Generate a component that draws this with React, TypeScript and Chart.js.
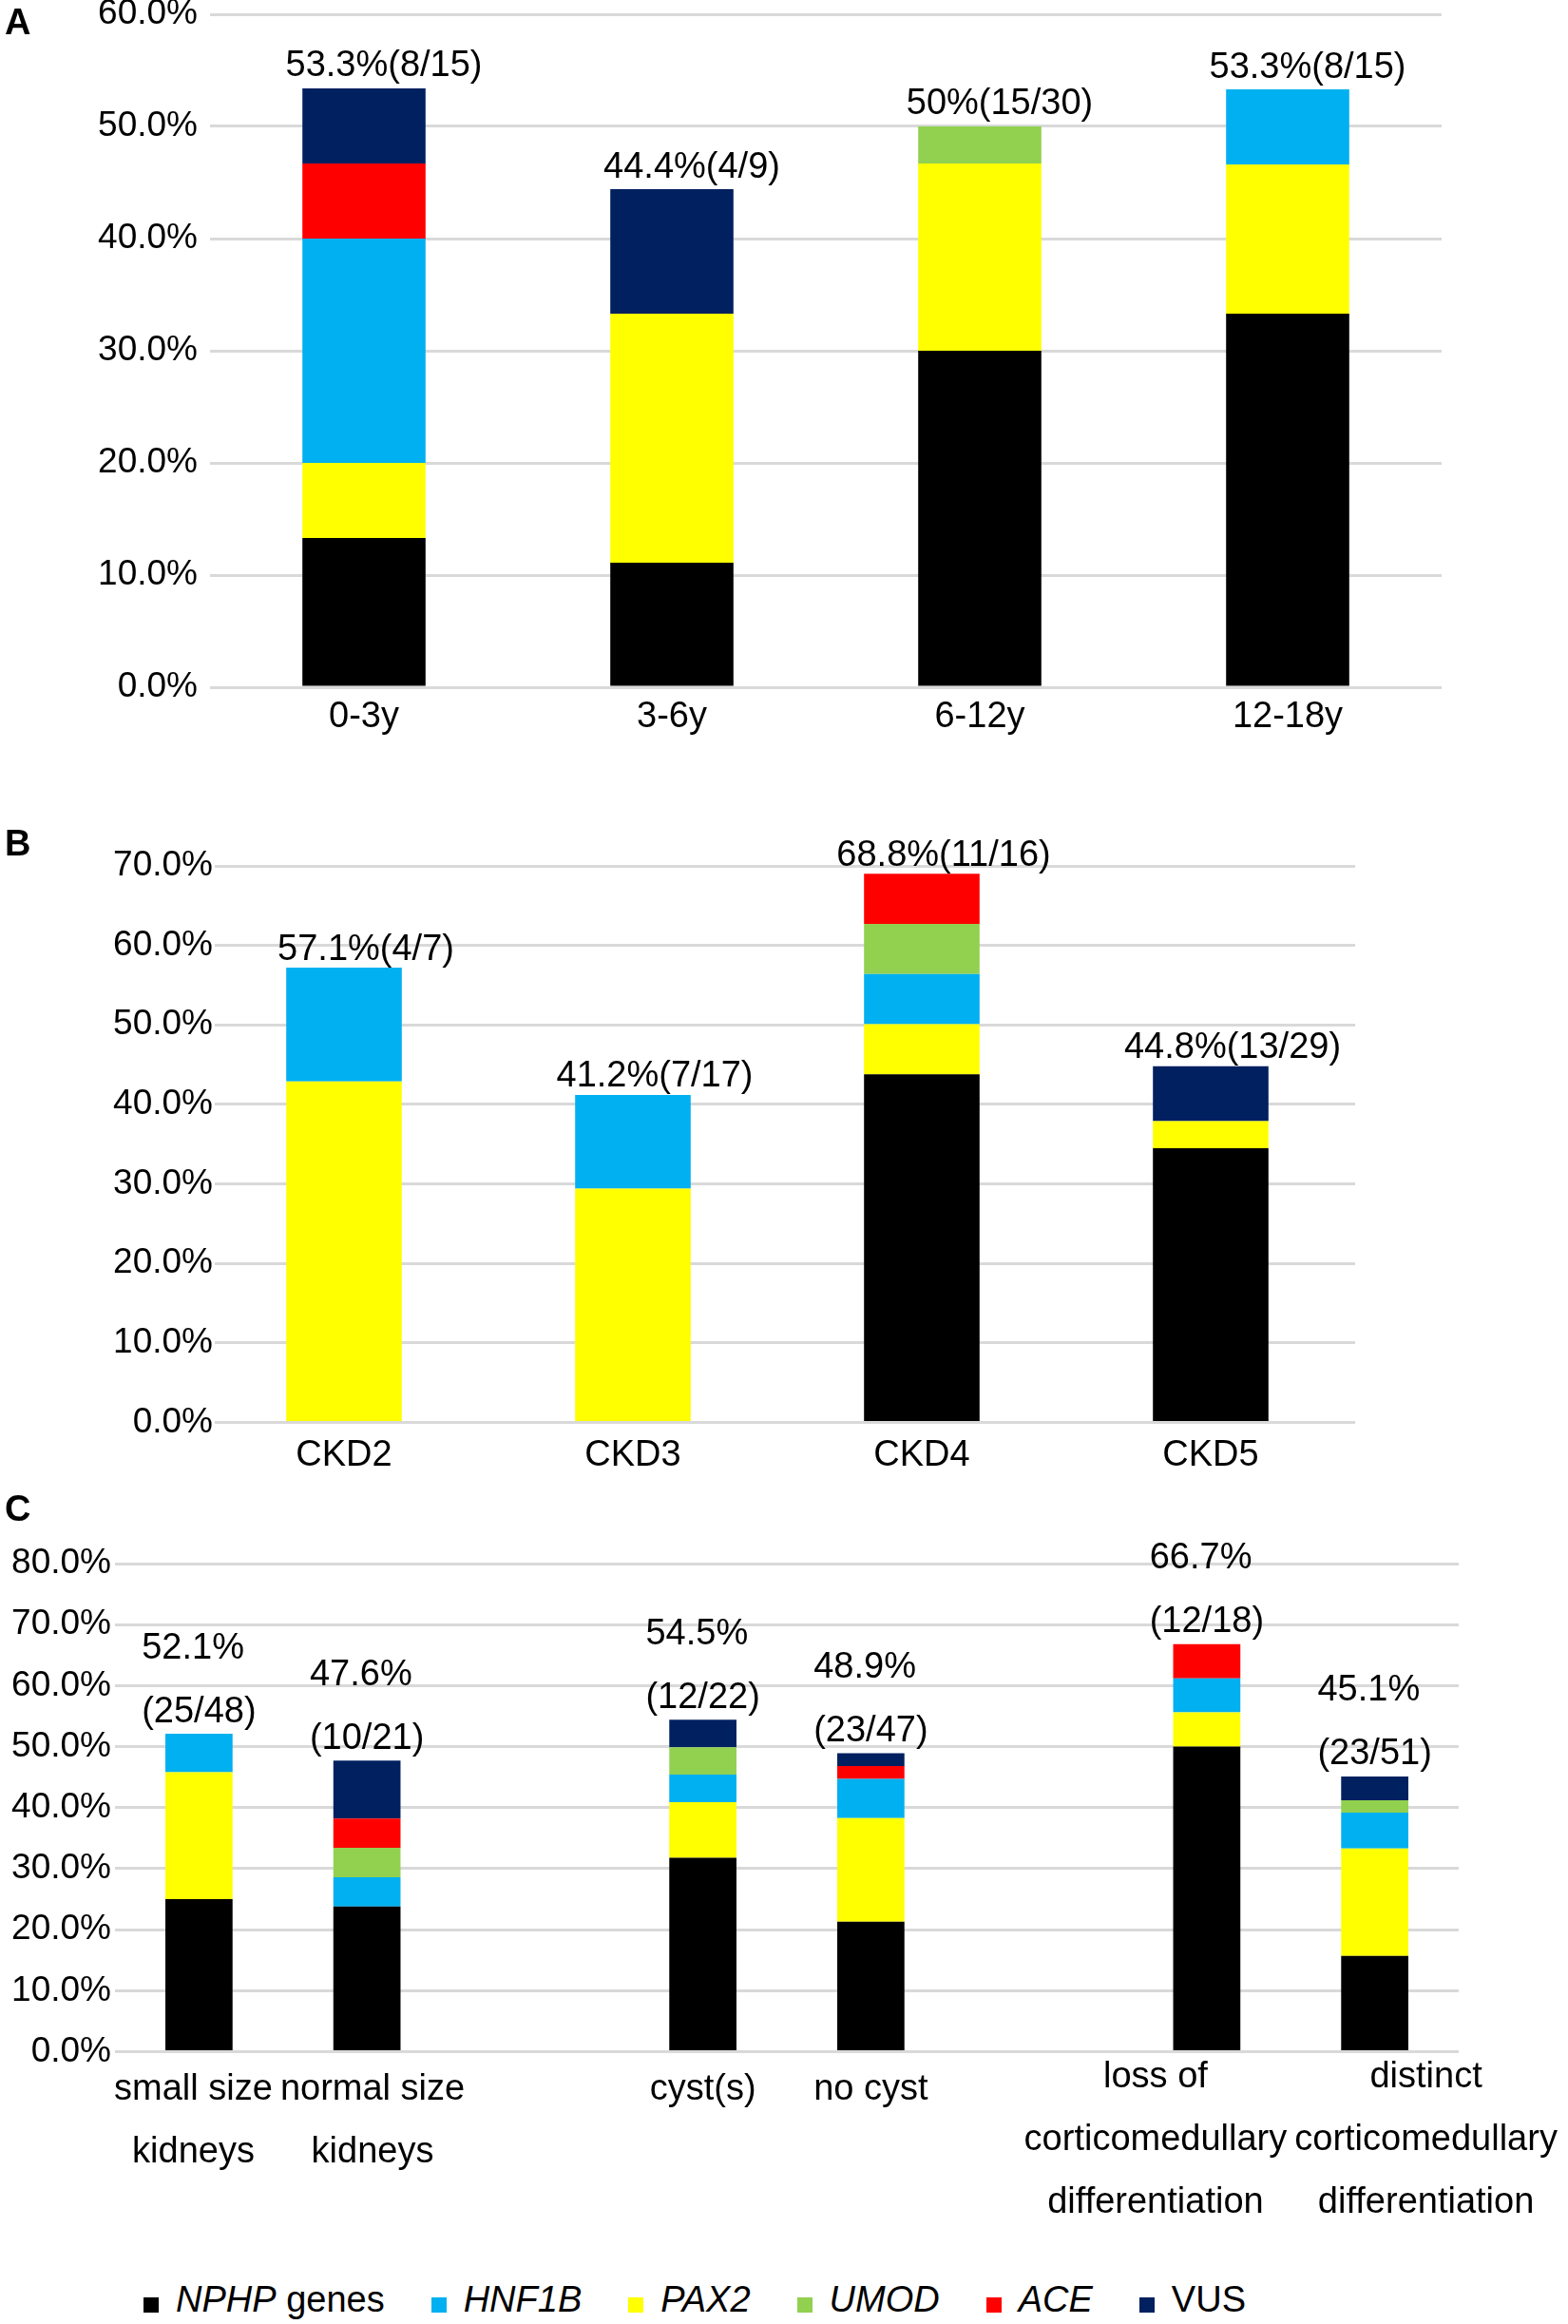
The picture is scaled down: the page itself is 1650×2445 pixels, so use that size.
import React, { useEffect, useRef } from 'react';
import { Chart, registerables } from 'chart.js';

Chart.register(...registerables);

const FONT = '"Liberation Sans", Arial, Helvetica, sans-serif';

// stacking order, bottom to top
const seriesNames = ['NPHP genes', 'PAX2', 'HNF1B', 'UMOD', 'ACE', 'VUS'];
const seriesColors = ['#000000', '#FFFF00', '#00B0F0', '#92D050', '#FF0000', '#002060'];

// A: age groups
const ageLabels = ['0-3y', '3-6y', '6-12y', '12-18y'];
const ageNphp = [13.3, 11.1, 30.0, 33.3];
const agePax2 = [6.7, 22.2, 16.7, 13.3];
const ageHnf1b = [20.0, 0, 0, 6.7];
const ageUmod = [0, 0, 3.3, 0];
const ageAce = [6.7, 0, 0, 0];
const ageVus = [6.7, 11.1, 0, 0];
const ageTotals = [['53.3%(8/15)'], ['44.4%(4/9)'], ['50%(15/30)'], ['53.3%(8/15)']];

// B: CKD stages
const ckdLabels = ['CKD2', 'CKD3', 'CKD4', 'CKD5'];
const ckdNphp = [0, 0, 43.8, 34.5];
const ckdPax2 = [42.9, 29.4, 6.3, 3.4];
const ckdHnf1b = [14.3, 11.8, 6.3, 0];
const ckdUmod = [0, 0, 6.3, 0];
const ckdAce = [0, 0, 6.3, 0];
const ckdVus = [0, 0, 0, 6.9];
const ckdTotals = [['57.1%(4/7)'], ['41.2%(7/17)'], ['68.8%(11/16)'], ['44.8%(13/29)']];

// C: imaging findings (empty slots separate the groups)
const imgLabels = [
  ['small size', 'kidneys'],
  ['normal size', 'kidneys'],
  '',
  ['cyst(s)'],
  ['no cyst'],
  '',
  ['loss of', 'corticomedullary', 'differentiation'],
  ['distinct', 'corticomedullary', 'differentiation'],
];
const imgNphp = [25.0, 23.8, null, 31.8, 21.3, null, 50.0, 15.7];
const imgPax2 = [20.8, 0, null, 9.1, 17.0, null, 5.6, 17.6];
const imgHnf1b = [6.3, 4.8, null, 4.5, 6.4, null, 5.6, 5.9];
const imgUmod = [0, 4.8, null, 4.5, 0, null, 0, 2.0];
const imgAce = [0, 4.8, null, 0, 2.1, null, 5.6, 0];
const imgVus = [0, 9.5, null, 4.5, 2.1, null, 0, 3.9];
const imgTotals = [
  ['52.1%', '(25/48)'],
  ['47.6%', '(10/21)'],
  null,
  ['54.5%', '(12/22)'],
  ['48.9%', '(23/47)'],
  null,
  ['66.7%', '(12/18)'],
  ['45.1%', '(23/51)'],
];

// legend order as in the figure: [italic part, plain part, colour]
const legendItems: [string, string, string][] = [
  ['NPHP', ' genes', '#000000'],
  ['HNF1B', '', '#00B0F0'],
  ['PAX2', '', '#FFFF00'],
  ['UMOD', '', '#92D050'],
  ['ACE', '', '#FF0000'],
  ['', 'VUS', '#002060'],
];

interface PanelProps {
  top: number;
  height: number;
  labels: any[];
  series: (number | null)[][];
  totals: (string[] | null)[];
  yMax: number;
  plotLeft: number;
  plotRight: number;
  plotTop: number;
  plotBottom: number;
  yLabelRight: number; // right edge of the y tick labels
  xTickPad: number;
  customX?: boolean; // wrapped labels pushed apart like the office chart does
  xFirst?: number;
  xGap?: number;
  labelOffset: number;
  labelGap: number;
  labelDx: number;
}

const StackedPanel: React.FC<PanelProps> = (p) => {
  const chartRef = useRef<HTMLCanvasElement>(null);

  useEffect(() => {
    if (!chartRef.current) return;

    // tick labels may reach into the plot area (panel B), so measure them first
    const mctx = document.createElement('canvas').getContext('2d')!;
    mctx.font = `37px ${FONT}`;
    const widest = mctx.measureText(p.yMax.toFixed(1) + '%').width;
    const inside = p.yLabelRight > p.plotLeft;
    const yTicks: any = inside
      ? { mirror: true, crossAlign: 'far', padding: p.yLabelRight - p.plotLeft - widest, showLabelBackdrop: true, backdropColor: '#ffffff', backdropPadding: 2 }
      : { padding: p.plotLeft - p.yLabelRight };

    const totalsPlugin = {
      id: 'totals',
      afterDatasetsDraw(chart: any) {
        const { ctx, scales } = chart;
        ctx.save();
        ctx.font = `38px ${FONT}`;
        ctx.fillStyle = '#000';
        ctx.textBaseline = 'middle';
        ctx.textAlign = 'left';
        p.totals.forEach((lines, i) => {
          if (!lines) return;
          let sum = 0;
          chart.data.datasets.forEach((ds: any) => { sum += ds.data[i] || 0; });
          const topPx = scales.y.getPixelForValue(sum);
          const cx = scales.x.getPixelForValue(i) + p.labelDx;
          const w = Math.max(...lines.map((l) => ctx.measureText(l).width));
          lines.forEach((l, k) => {
            const yy = topPx - p.labelOffset - (lines.length - 1 - k) * p.labelGap;
            ctx.fillText(l, cx - w / 2, yy);
          });
        });
        ctx.restore();
      },
    };

    const catLabelPlugin = {
      id: 'catLabels',
      afterDraw(chart: any) {
        if (!p.customX) return;
        const { ctx, scales, chartArea } = chart;
        ctx.save();
        ctx.font = `38px ${FONT}`;
        ctx.fillStyle = '#000';
        ctx.textAlign = 'center';
        ctx.textBaseline = 'middle';
        const blocks = p.labels.map((lab: any, i: number) => {
          const lines: string[] = Array.isArray(lab) ? lab : lab ? [lab] : [];
          const w = lines.length ? Math.max(...lines.map((l) => ctx.measureText(l).width)) : 0;
          return { lines, w, cx: scales.x.getPixelForValue(i) };
        });
        for (let i = 1; i < blocks.length; i++) {
          const a = blocks[i - 1];
          const b = blocks[i];
          if (!a.lines.length || !b.lines.length) continue;
          const overlap = a.cx + a.w / 2 + 8 - (b.cx - b.w / 2);
          if (overlap > 0) {
            a.cx -= overlap / 2;
            b.cx += overlap / 2;
          }
        }
        blocks.forEach((b: any) => {
          // taller blocks sit a little higher
          const y0 = chartArea.bottom + (p.xFirst || 0) - Math.max(0, b.lines.length - 2) * 13;
          b.lines.forEach((l: string, k: number) => {
            ctx.fillText(l, b.cx, y0 + k * (p.xGap || 0));
          });
        });
        ctx.restore();
      },
    };

    const config: any = {
      type: 'bar',
      data: {
        labels: p.labels,
        datasets: p.series.map((data, k) => ({
          label: seriesNames[k],
          data,
          backgroundColor: seriesColors[k],
          borderWidth: 0,
          categoryPercentage: 1,
          barPercentage: 0.4,
        })),
      },
      options: {
        animation: false,
        responsive: true,
        maintainAspectRatio: false,
        layout: { padding: { left: 0, top: p.plotTop, right: 1650 - p.plotRight, bottom: 0 } },
        plugins: { legend: { display: false }, tooltip: { enabled: false } },
        scales: {
          x: {
            stacked: true,
            grid: { display: false, drawTicks: false },
            border: { display: false },
            ticks: {
              display: !p.customX,
              color: '#000',
              font: { family: FONT, size: 38 },
              padding: p.xTickPad,
              autoSkip: false,
              maxRotation: 0,
              minRotation: 0,
            },
            afterFit: (s: any) => {
              s.height = p.height - p.plotBottom;
              s.paddingLeft = 0; s.paddingRight = 0; s.paddingTop = 0; s.paddingBottom = 0;
            },
          },
          y: {
            stacked: true,
            min: 0,
            max: p.yMax,
            grid: { color: '#d9d9d9', lineWidth: 3, drawTicks: false },
            border: { display: false },
            ticks: {
              stepSize: 10,
              color: '#000',
              font: { family: FONT, size: 37 },
              callback: (v: any) => Number(v).toFixed(1) + '%',
              ...yTicks,
            },
            afterFit: (s: any) => {
              s.width = p.plotLeft;
              s.paddingLeft = 0; s.paddingRight = 0; s.paddingTop = 0; s.paddingBottom = 0;
            },
          },
        },
      },
      plugins: [totalsPlugin, catLabelPlugin],
    };

    const chartInstance = new Chart(chartRef.current, config);
    return () => {
      chartInstance.destroy();
    };
  }, []);

  return (
    <div style={{ position: 'absolute', left: 0, top: p.top, width: 1650, height: p.height }}>
      <canvas ref={chartRef}></canvas>
    </div>
  );
};

const letterStyle: React.CSSProperties = {
  position: 'absolute',
  left: 5,
  fontFamily: FONT,
  fontWeight: 'bold',
  fontSize: 38,
  lineHeight: '38px',
  color: '#000',
};

export default function App() {
  return (
    <div style={{ position: 'absolute', left: 0, top: 0, width: 1650, height: 2445, background: '#fff' }}>
      <StackedPanel
        top={0} height={800}
        labels={ageLabels}
        series={[ageNphp, agePax2, ageHnf1b, ageUmod, ageAce, ageVus]}
        totals={ageTotals} yMax={60}
        plotLeft={221} plotRight={1517} plotTop={15} plotBottom={723}
        yLabelRight={208} xTickPad={9}
        labelOffset={23} labelGap={0} labelDx={21}
      />
      <StackedPanel
        top={800} height={770}
        labels={ckdLabels}
        series={[ckdNphp, ckdPax2, ckdHnf1b, ckdUmod, ckdAce, ckdVus]}
        totals={ckdTotals} yMax={70}
        plotLeft={210} plotRight={1426} plotTop={111} plotBottom={696.5}
        yLabelRight={224} xTickPad={12}
        labelOffset={19} labelGap={0} labelDx={23}
      />
      <StackedPanel
        top={1570} height={800}
        labels={imgLabels}
        series={[imgNphp, imgPax2, imgHnf1b, imgUmod, imgAce, imgVus]}
        totals={imgTotals} yMax={80}
        plotLeft={121} plotRight={1535} plotTop={75} plotBottom={588.5}
        yLabelRight={117} xTickPad={0}
        customX xFirst={40} xGap={66}
        labelOffset={23} labelGap={67} labelDx={0}
      />
      <div style={{ ...letterStyle, top: 4 }}>A</div>
      <div style={{ ...letterStyle, top: 868 }}>B</div>
      <div style={{ ...letterStyle, top: 1568 }}>C</div>
      <div
        style={{
          position: 'absolute', left: 151, top: 2400, height: 38,
          display: 'flex', alignItems: 'center',
          fontFamily: FONT, fontSize: 38, lineHeight: '38px', color: '#000', whiteSpace: 'nowrap',
        }}
      >
        {legendItems.map(([it, plain, color], i) => (
          <div key={i} style={{ display: 'flex', alignItems: 'center', marginRight: 49 }}>
            <span style={{ width: 16, height: 16, background: color, marginRight: 18, position: 'relative', top: 6 }} />
            {it && <i>{it}</i>}
            {plain && <span style={{ whiteSpace: 'pre' }}>{plain}</span>}
          </div>
        ))}
      </div>
    </div>
  );
}
